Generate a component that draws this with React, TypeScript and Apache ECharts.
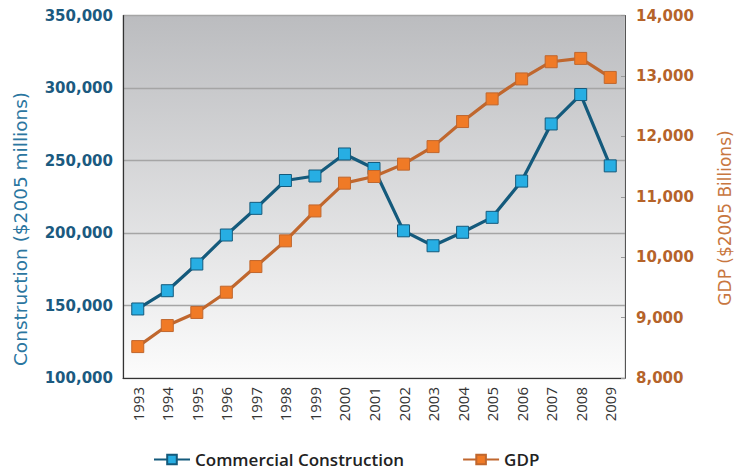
import React, { useEffect, useRef } from "react";
import * as echarts from "echarts";

const years = ["1993","1994","1995","1996","1997","1998","1999","2000","2001","2002","2003","2004","2005","2006","2007","2008","2009"];
const construction = [147600, 160200, 178600, 198600, 217000, 236200, 239300, 254500, 244500, 201500, 191200, 200500, 210800, 235800, 275200, 295500, 246300];
const gdp = [8520, 8868, 9085, 9420, 9845, 10270, 10765, 11225, 11335, 11540, 11830, 12245, 12620, 12950, 13235, 13290, 12975];
const leftName = "Construction ($2005 millions)";
const rightName = "GDP ($2005 Billions)";

const fmt = (v: number) => v.toLocaleString("en-US");

export default function App() {
  const ref = useRef<HTMLDivElement>(null);
  useEffect(() => {
    const chart = echarts.init(ref.current!, null, { renderer: "svg" });
    const font = "Open Sans";
    const wide = "DejaVu Sans";
    chart.setOption({
      animation: false,
      textStyle: { fontFamily: font },
      graphic: [
        {
          type: "text",
          x: 20,
          y: 229,
          rotation: Math.PI / 2,
          style: { text: leftName, fill: "#2b76a0", fontSize: 18.5, fontFamily: wide, align: "center", verticalAlign: "middle" },
        },
        {
          type: "text",
          x: 725,
          y: 218,
          rotation: Math.PI / 2,
          style: { text: rightName, fill: "#c8773f", fontSize: 17, fontFamily: wide, align: "center", verticalAlign: "middle" },
        },
      ],
      grid: {
        left: 123,
        right: 122,
        top: 15.5,
        bottom: 97,
        show: true,
        borderWidth: 1,
        borderColor: "#c8c8c8",
        backgroundColor: new echarts.graphic.LinearGradient(0, 0, 0, 1, [
          { offset: 0, color: "#bbbcbf" },
          { offset: 1, color: "#fcfcfc" },
        ]),
      },
      legend: {
        bottom: 2,
        left: 148,
        itemWidth: 36,
        itemHeight: 12,
        itemGap: 58,
        textStyle: { fontFamily: font, fontSize: 17, fontWeight: 600, color: "#222" },
        data: ["Commercial Construction", "GDP"],
      },
      xAxis: {
        type: "category",
        data: years,
        boundaryGap: true,
        axisLine: { lineStyle: { color: "#333", width: 1.2 } },
        axisTick: { inside: true, length: 5, lineStyle: { color: "#999" } },
        axisLabel: { rotate: 90, fontSize: 15, color: "#333", margin: 9, fontFamily: font },
      },
      yAxis: [
        {
          type: "value",
          min: 100000,
          max: 350000,
          interval: 50000,
          position: "left",
          axisLine: { show: true, lineStyle: { color: "#333", width: 1.2 } },
          axisTick: { show: false },
          axisLabel: { formatter: fmt, color: "#1b5a80", fontSize: 15, fontWeight: "bold", margin: 10, fontFamily: wide },
          splitLine: { lineStyle: { color: "#a5a5a5", width: 1.3 } },
        },
        {
          type: "value",
          min: 8000,
          max: 14000,
          interval: 1000,
          position: "right",
          axisLine: { show: true, lineStyle: { color: "#555", width: 1 } },
          axisTick: { show: true, inside: true, length: 4, lineStyle: { color: "#999" } },
          axisLabel: { formatter: fmt, color: "#b5632a", fontSize: 15, fontWeight: "bold", margin: 11, fontFamily: wide },
          splitLine: { show: false },
        },
      ],
      series: [
        {
          name: "Commercial Construction",
          type: "line",
          yAxisIndex: 0,
          data: construction,
          symbol: "rect",
          symbolSize: 12,
          lineStyle: { color: "#145a7c", width: 3.2 },
          itemStyle: { color: "#27aee3", borderColor: "#145a7c", borderWidth: 1 },
          z: 3,
        },
        {
          name: "GDP",
          type: "line",
          yAxisIndex: 1,
          data: gdp,
          symbol: "rect",
          symbolSize: 12,
          lineStyle: { color: "#c0672e", width: 3.2 },
          itemStyle: { color: "#f07a26", borderColor: "#c0672e", borderWidth: 1 },
          z: 4,
        },
      ],
    });
    return () => chart.dispose();
  }, []);
  return <div ref={ref} style={{ width: 747, height: 475, position: "absolute", left: 0, top: 0 }} />;
}
